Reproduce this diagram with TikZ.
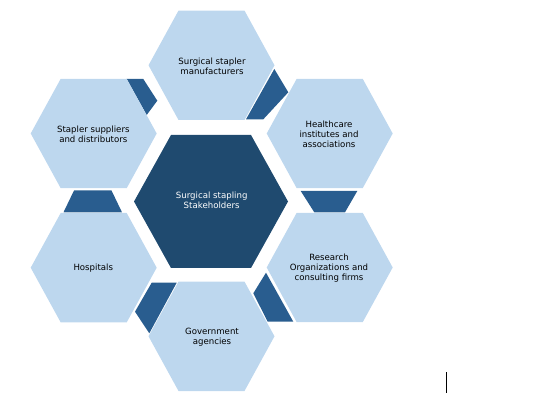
\documentclass[tikz,border=0pt]{standalone}
\usepackage{fontspec}
\setmainfont{DejaVu Sans}
\definecolor{hexlight}{HTML}{BDD7EE}
\definecolor{hexdark}{HTML}{1F4A6F}
\definecolor{piecedark}{HTML}{295D8F}
\tikzset{
  outerhex/.style={fill=hexlight},
  centerhex/.style={fill=hexdark},
  linkpiece/.style={fill=piecedark},
  lbl/.style={font=\fontsize{8.6}{10}\selectfont, align=center, text=black, inner sep=0pt},
  centerlbl/.style={lbl, text=white},
  cursorline/.style={draw=black, line width=0.9pt}
}
% style, cx, cy, r (half width), t (half top edge), h (half height)
\newcommand\hexagonat[6]{%
  \path[#1] ({#2-#4},#3) -- ({#2-#5},{#3-#6}) -- ({#2+#5},{#3-#6}) -- ({#2+#4},#3)
    -- ({#2+#5},{#3+#6}) -- ({#2-#5},{#3+#6}) -- cycle;}
\begin{document}
\begin{tikzpicture}[x=1pt,y=-1pt]
\useasboundingbox (0,0) rectangle (551,411);
% connecting pieces
\path[linkpiece] (274.3,69) -- (288.3,92.3) -- (263.3,119.3) -- (246,119.3) -- cycle;
\path[linkpiece] (126.7,79) -- (143.3,79) -- (157.3,100.7) -- (146.7,115) -- cycle;
\path[linkpiece] (74,190.5) -- (111.5,190.5) -- (122,212.3) -- (63.5,212.3) -- cycle;
\path[linkpiece] (300.7,191) -- (357.3,191) -- (345,212.3) -- (314.3,212.3) -- cycle;
\path[linkpiece] (266,272.7) -- (293.3,321.7) -- (267.7,321.7) -- (253.3,293.3) -- cycle;
\path[linkpiece] (151.7,282.7) -- (176.7,282.7) -- (149.3,333.3) -- (135,311.7) -- cycle;
% hexagons
\hexagonat{centerhex}{211}{201.5}{77}{40}{66.5}
\hexagonat{outerhex}{211.5}{65.3}{63}{33}{54.7}
\hexagonat{outerhex}{329.7}{133.5}{63}{33}{54.7}
\hexagonat{outerhex}{329.7}{267.5}{63}{33}{54.7}
\hexagonat{outerhex}{211.5}{336.3}{63}{33}{54.7}
\hexagonat{outerhex}{93.7}{267.7}{63}{33}{54.7}
\hexagonat{outerhex}{93.7}{133.5}{63}{33}{54.7}
% labels
\node[centerlbl] (center) at (211.7,200.7) {Surgical stapling\\Stakeholders};
\node[lbl] (manuf) at (212,66) {Surgical stapler\\manufacturers};
\node[lbl] (health) at (329,134) {Healthcare\\institutes and\\associations};
\node[lbl] (research) at (329,268.5) {Research\\Organizations and\\consulting firms};
\node[lbl] (govt) at (212,337) {Government\\agencies};
\node[lbl] (hosp) at (93.3,267.7) {Hospitals};
\node[lbl] (suppl) at (93.3,134) {Stapler suppliers\\and distributors};
% small vertical stroke
\coordinate (cursortop) at (446.7,372.3);
\coordinate (cursorbot) at (446.7,392.7);
\draw[cursorline] (cursortop) -- (cursorbot);
\end{tikzpicture}
\end{document}
